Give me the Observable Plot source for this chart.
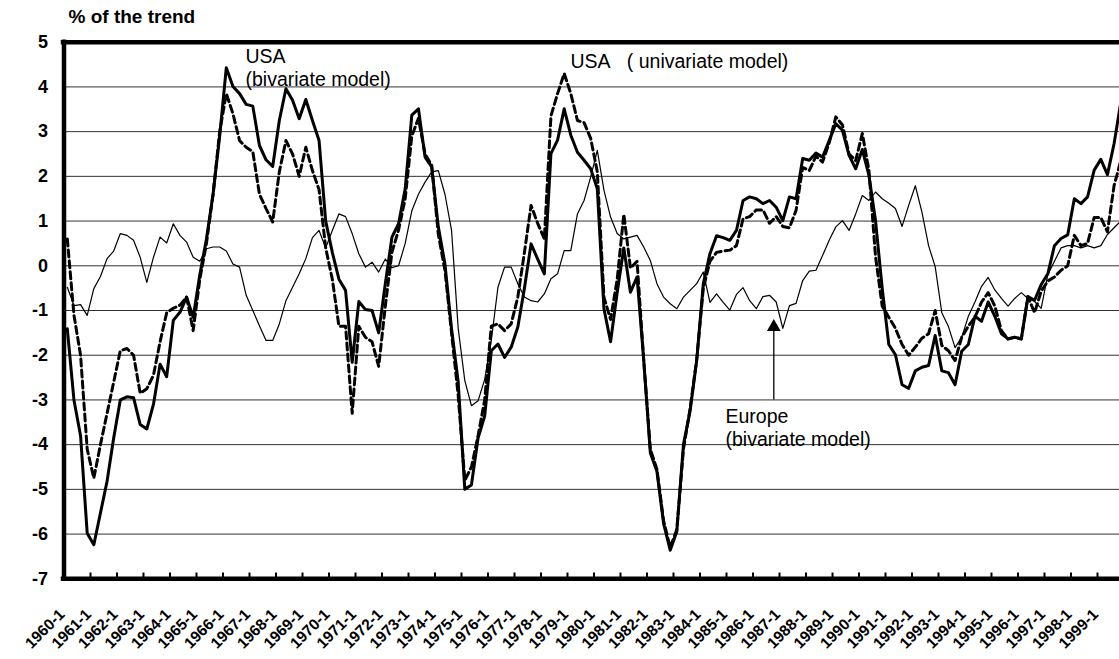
<!DOCTYPE html>
<html><head><meta charset="utf-8">
<script src="https://cdn.jsdelivr.net/npm/d3@7"></script>
<script src="https://cdn.jsdelivr.net/npm/@observablehq/plot@0.6"></script>
<style>html,body{margin:0;padding:0;background:#fff;}</style>
</head><body><div id="chart"></div>
<script>
// Quarterly deviations from trend (%), 1960-1 .. 1999-4
const usaBivariate = [
 -1.41,-3.0,-3.8,-5.98,-6.24,-5.53,-4.82,-3.85,-3.0,-2.93,
 -2.95,-3.55,-3.65,-3.1,-2.2,-2.48,-1.22,-1.04,-0.7,-1.15,
 -0.2,0.6,1.6,2.9,4.43,4.01,3.85,3.61,3.57,2.69,
 2.37,2.22,3.25,3.96,3.7,3.29,3.72,3.25,2.8,1.0,
 0.3,-0.3,-0.55,-2.16,-0.8,-0.98,-1.0,-1.5,-0.4,0.64,
 0.94,1.72,3.37,3.51,2.43,2.21,0.87,0.04,-1.41,-2.6,
 -5.0,-4.9,-3.85,-3.36,-1.9,-1.75,-2.05,-1.82,-1.37,-0.5,
 0.49,0.15,-0.18,2.51,2.81,3.51,2.92,2.54,2.36,2.17,
 1.72,-0.96,-1.7,-0.6,0.4,-0.59,-0.25,-2.1,-4.18,-4.6,
 -5.76,-6.36,-5.94,-4.0,-3.25,-2.12,-0.4,0.27,0.67,0.63,
 0.57,0.79,1.46,1.54,1.5,1.39,1.46,1.31,1.01,1.54,
 1.5,2.4,2.36,2.52,2.43,2.8,3.18,3.03,2.47,2.17,
 2.6,2.02,1.0,-0.5,-1.76,-1.99,-2.66,-2.74,-2.35,-2.27,
 -2.23,-1.56,-2.35,-2.39,-2.66,-1.91,-1.76,-1.13,-1.24,-0.81,
 -1.13,-1.52,-1.63,-1.6,-1.63,-0.69,-0.77,-0.42,-0.18,0.45,
 0.61,0.69,1.5,1.39,1.54,2.14,2.38,2.04,2.73,3.64
];
const usaUnivariate = [
 0.6,-1.1,-2.0,-4.1,-4.75,-4.0,-3.3,-2.6,-1.9,-1.85,
 -2.0,-2.85,-2.75,-2.45,-1.7,-1.05,-0.95,-0.88,-0.7,-1.45,
 -0.3,0.5,1.6,3.0,3.85,3.4,2.8,2.65,2.55,1.6,
 1.28,0.98,2.1,2.8,2.5,2.0,2.65,2.13,1.7,0.4,
 -0.3,-1.35,-1.35,-3.3,-1.35,-1.6,-1.7,-2.25,-0.9,0.3,
 0.8,1.5,2.9,3.3,2.5,2.25,0.7,-0.1,-1.5,-2.9,
 -4.8,-4.5,-3.8,-3.0,-1.35,-1.3,-1.45,-1.3,-0.7,0.3,
 1.35,0.95,0.6,3.35,3.85,4.3,3.85,3.25,3.2,2.85,
 2.1,-0.7,-1.2,-0.3,1.15,-0.05,0.1,-2.1,-4.1,-4.55,
 -5.7,-6.3,-5.9,-4.1,-3.2,-2.1,-0.5,0.1,0.3,0.33,
 0.35,0.45,1.05,1.1,1.25,1.25,0.95,1.1,0.88,0.85,
 1.24,2.2,2.13,2.45,2.32,2.75,3.33,3.15,2.5,2.35,
 2.96,2.13,0.2,-0.9,-1.15,-1.4,-1.76,-2.0,-1.82,-1.62,
 -1.52,-1.0,-1.78,-1.9,-2.12,-1.6,-1.35,-1.15,-0.81,-0.6,
 -0.9,-1.45,-1.64,-1.6,-1.64,-0.69,-1.05,-0.57,-0.34,-0.25,
 -0.1,0.0,0.68,0.45,0.5,1.08,1.08,0.76,1.79,2.34
];
const europeBivariate = [
 -0.48,-0.89,-0.87,-1.11,-0.51,-0.24,0.16,0.33,0.72,0.68,
 0.57,0.19,-0.37,0.19,0.64,0.51,0.94,0.68,0.53,0.19,
 0.1,0.38,0.42,0.42,0.33,0.04,-0.03,-0.66,-1.0,-1.34,
 -1.67,-1.67,-1.3,-0.78,-0.48,-0.18,0.16,0.63,0.79,0.4,
 0.79,1.16,1.1,0.72,0.27,-0.03,0.08,-0.14,0.15,-0.04,
 0.0,0.5,1.23,1.6,1.87,2.1,2.13,1.6,0.79,-1.4,
 -2.57,-3.13,-3.02,-2.54,-1.67,-0.48,-0.03,-0.03,-0.4,-0.7,
 -0.78,-0.81,-0.63,-0.29,-0.18,0.34,0.34,1.16,1.46,1.99,
 2.58,1.69,1.09,0.72,0.6,0.64,0.68,0.42,0.12,-0.4,
 -0.7,-0.85,-0.96,-0.7,-0.55,-0.4,-0.14,-0.82,-0.63,-0.82,
 -0.99,-0.64,-0.49,-0.78,-0.96,-0.69,-0.66,-0.81,-1.4,-0.89,
 -0.84,-0.33,-0.12,-0.1,0.23,0.57,0.87,1.01,0.79,1.16,
 1.57,1.46,1.65,1.5,1.4,1.28,0.88,1.35,1.79,1.2,
 0.45,-0.02,-1.05,-1.36,-1.83,-1.6,-1.13,-0.81,-0.46,-0.26,
 -0.54,-0.73,-0.9,-0.73,-0.6,-0.73,-0.8,-0.95,-0.2,0.1,
 0.4,0.45,0.45,0.4,0.45,0.4,0.45,0.7,0.85,1.0
];
const firstYear = 1960;
const yTicks = [5,4,3,2,1,0,-1,-2,-3,-4,-5,-6,-7];
const xTickLabels = d3.range(0, 40).map(k => `${firstYear + k}-1`);

const toRows = arr => arr.map((v, i) => ({q: i + 0.5, v}));
const bi = toRows(usaBivariate), uni = toRows(usaUnivariate), eu = toRows(europeBivariate);
const tickPos = d3.range(4, 161, 4);

const chart = Plot.plot({
  width: 1119, height: 659,
  marginLeft: 63, marginRight: 0, marginTop: 42, marginBottom: 81,
  style: {fontFamily: "'Liberation Sans', Arial, sans-serif", background: "#fff", color: "#000"},
  x: {domain: [0, 160], range: [63.5, 1123.5], axis: null},
  y: {domain: [-7, 5], range: [578.3, 41.7], axis: null},
  marks: [
    Plot.ruleY(d3.range(-6, 5), {stroke: "#333", strokeWidth: 1}),
    Plot.line(eu, {x: "q", y: "v", stroke: "#000", strokeWidth: 1.2}),
    Plot.line(uni, {x: "q", y: "v", stroke: "#000", strokeWidth: 3, strokeDasharray: "7,4"}),
    Plot.line(bi, {x: "q", y: "v", stroke: "#000", strokeWidth: 3}),
    Plot.ruleX(tickPos, {x: d => d, y1: -7, y2: -6.87, stroke: "#000", strokeWidth: 2}),
    Plot.ruleY([-7, 5], {stroke: "#000", strokeWidth: 4.5, strokeLinecap: "square"}),
    Plot.ruleX([0], {y1: -7, y2: 5, stroke: "#000", strokeWidth: 4.5, strokeLinecap: "square"}),
    Plot.text(yTicks, {x: 0, y: d => d, text: d => String(d), dx: -16, textAnchor: "end", fontWeight: "bold", fontSize: 18}),
    Plot.text(xTickLabels, {x: (d, i) => 4 * i, y: -7, text: d => d, rotate: -45, textAnchor: "end", dx: -2, dy: 33, fontWeight: "bold", fontSize: 15.5}),
    Plot.text(["USA\n(bivariate model)"], {x: 27.4, y: 4.91, text: d => d, textAnchor: "start", lineAnchor: "top", fontSize: 19.5, lineHeight: 1.18}),
    Plot.text(["USA\u00a0\u00a0 ( univariate model)"], {x: 76.45, y: 4.741, text: d => d, textAnchor: "start", lineAnchor: "top", fontSize: 19.5}),
    Plot.text(["Europe\n(bivariate model)"], {x: 99.85, y: -3.146, text: d => d, textAnchor: "start", lineAnchor: "top", fontSize: 19.5, lineHeight: 1.18}),
    Plot.ruleX([107.14], {y1: -1.4, y2: -3.0, stroke: "#000", strokeWidth: 1.3}),
    Plot.dot([107.14], {x: d => d, y: -1.37, symbol: "triangle", r: 5.1, fill: "#000", stroke: null}),
    Plot.text(["% of the trend"], {frameAnchor: "top-left", dx: 5, dy: -33, text: d => d, textAnchor: "start", lineAnchor: "top", fontWeight: "bold", fontSize: 19})
  ]
});
document.getElementById("chart").appendChild(chart);
</script>
</body></html>
